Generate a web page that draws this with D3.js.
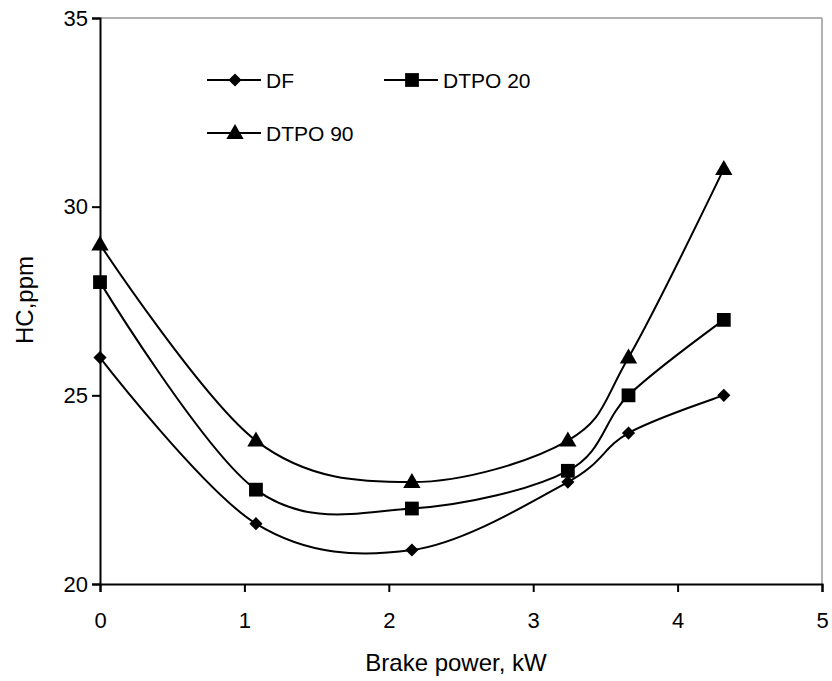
<!DOCTYPE html>
<html>
<head>
<meta charset="utf-8">
<script src="https://cdn.jsdelivr.net/npm/d3@7"></script>
<style>
body { margin: 0; background: #fff; }
text { font-family: "Liberation Sans", Arial, sans-serif; fill: #000; }
</style>
</head>
<body>
<svg id="chart" width="832" height="681"></svg>
<script>
const xValues = [0, 1.08, 2.16, 3.24, 3.66, 4.32];
const dfValues = [26, 21.6, 20.9, 22.7, 24, 25];
const dtpo20Values = [28, 22.5, 22, 23, 25, 27];
const dtpo90Values = [29, 23.8, 22.7, 23.8, 26, 31];
const seriesNames = ["DF", "DTPO 20", "DTPO 90"];
const xTicks = [0, 1, 2, 3, 4, 5];
const yTicks = [20, 25, 30, 35];

const svg = d3.select("#chart");
const m = {left: 100, right: 822, top: 18, bottom: 584};
const x = d3.scaleLinear().domain([0, 5]).range([m.left, m.right]);
const y = d3.scaleLinear().domain([20, 35]).range([m.bottom, m.top]);

// plot border (top/right grey)
svg.append("line").attr("x1", m.left).attr("x2", m.right).attr("y1", m.top).attr("y2", m.top)
  .attr("stroke", "#999").attr("stroke-width", 1.5);
svg.append("line").attr("x1", m.right).attr("x2", m.right).attr("y1", m.top).attr("y2", m.bottom)
  .attr("stroke", "#999").attr("stroke-width", 1.5);

const xAxis = svg.append("g").attr("transform", `translate(0,${m.bottom})`)
  .call(d3.axisBottom(x).tickValues(xTicks).tickFormat(d3.format("d")).tickSizeOuter(0).tickSize(8).tickPadding(20));
const yAxis = svg.append("g").attr("transform", `translate(${m.left},0)`)
  .call(d3.axisLeft(y).tickValues(yTicks).tickFormat(d3.format("d")).tickSizeOuter(0).tickSize(8).tickPadding(4));
[xAxis, yAxis].forEach(g => {
  g.attr("font-size", null).attr("font-family", null);
  g.select(".domain").attr("stroke", "#000").attr("stroke-width", 2);
  g.selectAll(".tick line").attr("stroke", "#000").attr("stroke-width", 2);
  g.selectAll(".tick text").style("font-size", "22px").style("font-family", "Liberation Sans, Arial, sans-serif").attr("fill", "#000");
});

svg.append("text").attr("x", 456).attr("y", 671)
  .attr("text-anchor", "middle").style("font-size", "24px").text("Brake power, kW");
svg.append("text").attr("transform", "translate(33,300) rotate(-90)")
  .attr("text-anchor", "middle").style("font-size", "24px").text("HC,ppm");

const symbols = [d3.symbolDiamond2, d3.symbolSquare, d3.symbolTriangle];
const symSizes = [110, 190, 130];
const allSeries = [dfValues, dtpo20Values, dtpo90Values];

const line = d3.line().x((d, i) => x(xValues[i])).y(d => y(d)).curve(d3.curveCatmullRom.alpha(0));

function marker(g, k, cx, cy) {
  const s = d3.symbol().type(symbols[k]).size(symSizes[k]);
  g.append("path").attr("d", s()).attr("transform", `translate(${cx},${cy + (k === 2 ? 1 : 0)})`)
    .attr("fill", "#000");
}

allSeries.forEach((vals, k) => {
  svg.append("path").datum(vals).attr("d", line).attr("fill", "none")
    .attr("stroke", "#000").attr("stroke-width", 2);
  const g = svg.append("g");
  vals.forEach((v, i) => marker(g, k, x(xValues[i]), y(v)));
});

// legend
const legendPos = [[207, 80], [384, 80], [207, 133]];
seriesNames.forEach((name, k) => {
  const [lx, ly] = legendPos[k];
  svg.append("line").attr("x1", lx).attr("x2", lx + 54).attr("y1", ly).attr("y2", ly)
    .attr("stroke", "#000").attr("stroke-width", 2);
  marker(svg, k, lx + 28, ly);
  svg.append("text").attr("x", lx + 59).attr("y", ly + 7.5).style("font-size", "21px").text(name);
});
</script>
</body>
</html>
